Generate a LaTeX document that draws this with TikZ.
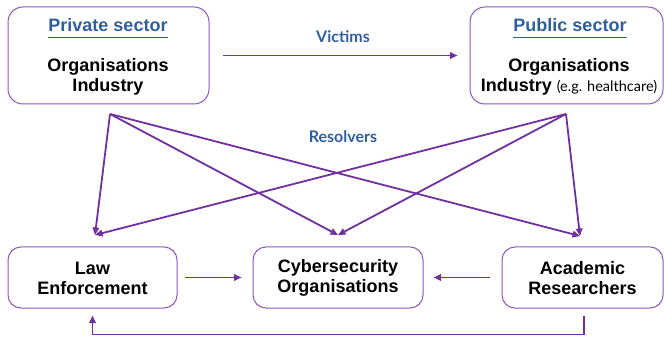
\documentclass[tikz,border=0pt]{standalone}
\usepackage{fontspec}
\setmainfont{Liberation Sans}
\newfontfamily\labelfont{Lato}
\usetikzlibrary{arrows.meta}
\definecolor{arrowpurple}{HTML}{7030A0}
\definecolor{boxpurple}{HTML}{8C55C2}
\definecolor{titleblue}{HTML}{2F5F9F}
\tikzset{
	sectorbox/.style={draw=boxpurple, line width=1pt, rounded corners=15pt, minimum height=97pt},
	actorbox/.style={draw=boxpurple, line width=1pt, rounded corners=13pt, minimum height=61pt},
	boxtext/.style={align=center, font=\fontsize{18}{20}\selectfont\bfseries},
	sectortitle/.style={inner sep=0pt, text=titleblue, font=\fontsize{18}{20}\selectfont\bfseries},
	flowlabel/.style={text=titleblue, font=\fontsize{16}{18}\labelfont\bfseries},
	arr/.style={draw=arrowpurple, line width=1.8pt, -{Triangle[length=7.5pt,width=6.5pt]}}
}
\begin{document}
\begin{tikzpicture}[x=1pt,y=-1pt]
		\useasboundingbox (0,0) rectangle (664,339);
		% sector boxes on top
		\node[sectorbox, minimum width=201pt] (priv) at (108.5,55.5) {};
		\node[sectorbox, minimum width=193pt] (pub) at (566.5,55.5) {};
		\node[sectortitle] (privtitle) at (108,25) {Private sector};
		\node[sectortitle] (pubtitle) at (570,25) {Public sector};
		\draw[titleblue, line width=0.8pt] ([yshift=-6pt]privtitle.south west) -- ([yshift=-6pt]privtitle.south east);
		\draw[titleblue, line width=0.8pt] ([yshift=-6pt]pubtitle.south west) -- ([yshift=-6pt]pubtitle.south east);
		\node[boxtext] (privbody) at (108,77) {Organisations\\Industry};
		\node[boxtext] (pubbody) at (569,77) {Organisations\\Industry {\labelfont\mdseries\fontsize{14.5}{15}\selectfont (e.g. healthcare)}};
		% resolvers below
		\foreach \x/\w/\alph/\name in {
			92.5/169/law/Law\\Enforcement,
			338/170/cyber/Cybersecurity\\Organisations,
			582.5/161/acad/Academic\\Researchers
		}{
			\node[actorbox, minimum width=\w pt] (\alph) at (\x,277.5) {};
			\node[boxtext] (\alph text) at (\x,278) {\name};
		}
		% free ends of the fan arrows
		\coordinate (privout) at (110,114);
		\coordinate (pubout) at (566,114);
		\coordinate (lawin) at (95,235);
		\coordinate (cyberin) at (338,235);
		\coordinate (acadin) at (580,236);
		\node[flowlabel] (victims) at (343,37) {Victims};
		\node[flowlabel] (resolvers) at (343,137) {Resolvers};
		\draw[arr] ([xshift=13pt]priv.east) -- ([xshift=-12pt]pub.west);
		\foreach \s in {privout, pubout}
		{\foreach \t in {lawin, cyberin, acadin}
		{\draw[arr] (\s) -- (\t);}}
		\draw[arr] ([xshift=7pt]law.east) -- ([xshift=-11pt]cyber.west);
		\draw[arr] ([xshift=-12pt]acad.west) -- ([xshift=10pt]cyber.east);
		\draw[arr] ([xshift=1.5pt,yshift=-7pt]acad.south) -- ++(0,19) -| ([yshift=-7pt]law.south);
\end{tikzpicture}
\end{document}
